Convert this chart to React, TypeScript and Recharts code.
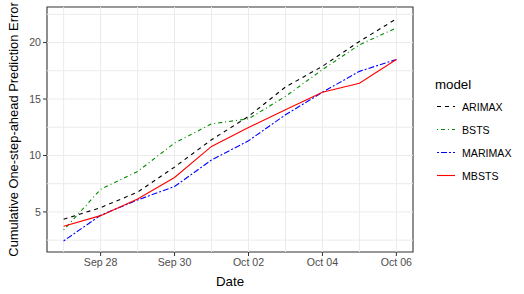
import { LineChart, Line, XAxis, YAxis, ReferenceLine, ReferenceArea, Legend } from 'recharts';

const dates = ['Sep 27', 'Sep 28', 'Sep 29', 'Sep 30', 'Oct 01', 'Oct 02', 'Oct 03', 'Oct 04', 'Oct 05', 'Oct 06'];
const arimax = [4.35, 5.38, 6.75, 8.97, 11.39, 13.46, 16.06, 17.9, 20.1, 22.1];
const bsts = [3.4, 7.0, 8.58, 11.1, 12.8, 13.25, 15.23, 17.6, 19.8, 21.3];
const marimax = [2.43, 4.7, 6.06, 7.25, 9.6, 11.3, 13.6, 15.6, 17.45, 18.5];
const mbsts = [3.73, 4.67, 6.15, 8.05, 10.8, 12.48, 14.05, 15.6, 16.4, 18.5];

const xTicks = [1, 3, 5, 7, 9];
const xMinor = [0, 2, 4, 6, 8];
const yTicks = [5, 10, 15, 20];
const yMinor = [2.5, 7.5, 12.5, 17.5, 22.5];
const xDomain = [-0.45, 9.45];
const yDomain = [1.45, 23.15];

const series = [
  { key: 'ARIMAX', color: '#000000', dash: '4 4' },
  { key: 'BSTS', color: '#008B00', dash: '1 3 4 3' },
  { key: 'MARIMAX', color: '#0000FF', dash: '2 2 6 2' },
  { key: 'MBSTS', color: '#FF0000', dash: undefined },
];

const data = dates.map((d, i) => ({
  x: i,
  ARIMAX: arimax[i],
  BSTS: bsts[i],
  MARIMAX: marimax[i],
  MBSTS: mbsts[i],
}));

const font = '"Liberation Sans", Arial, sans-serif';

function ModelLegend() {
  return (
    <div style={{ fontFamily: font, color: '#000' }}>
      <div style={{ fontSize: 13.3, height: 20, lineHeight: '20px' }}>model</div>
      {series.map(s => (
        <div key={s.key} style={{ display: 'flex', alignItems: 'center', height: 23 }}>
          <svg width={27} height={23} style={{ display: 'block' }}>
            <line x1={2} x2={20} y1={11.5} y2={11.5} stroke={s.color} strokeWidth={1.1} strokeDasharray={s.dash} />
          </svg>
          <span style={{ fontSize: 10.6 }}>{s.key}</span>
        </div>
      ))}
    </div>
  );
}

export default function App() {
  return (
    <div style={{ position: 'absolute', left: 0, top: 0, width: 524, height: 294, background: '#fff' }}>
      <LineChart width={524} height={294} data={data} margin={{ top: 7, right: 111, bottom: 0, left: 0 }}>
        {xMinor.concat(xTicks).map(v => (
          <ReferenceLine key={'gx' + v} x={v} stroke="#EBEBEB" strokeWidth={1} />
        ))}
        {yMinor.concat(yTicks).map(v => (
          <ReferenceLine key={'gy' + v} y={v} stroke="#EBEBEB" strokeWidth={1} />
        ))}
        <XAxis
          dataKey="x"
          type="number"
          domain={xDomain}
          ticks={xTicks}
          tickFormatter={(v: number) => dates[v]}
          height={42}
          axisLine={false}
          tickLine={{ stroke: '#333333' }}
          tickSize={4}
          tickMargin={2}
          tick={{ fill: '#4D4D4D', fontSize: 10.6, fontFamily: font }}
          label={{ value: 'Date', position: 'insideBottom', offset: 8, fill: '#000', fontSize: 13.3, fontFamily: font }}
        />
        <YAxis
          type="number"
          domain={yDomain}
          ticks={yTicks}
          width={47}
          axisLine={false}
          tickLine={{ stroke: '#333333' }}
          tickSize={4}
          tickMargin={2}
          tick={{ fill: '#4D4D4D', fontSize: 10.6, fontFamily: font }}
          label={{
            value: 'Cumulative One-step-ahead Prediction Error',
            angle: -90,
            position: 'insideLeft',
            offset: 13,
            fill: '#000',
            fontSize: 12.9,
            fontFamily: font,
            style: { textAnchor: 'middle' },
          }}
        />
        {series.map(s => (
          <Line
            key={s.key}
            dataKey={s.key}
            stroke={s.color}
            strokeWidth={1.1}
            strokeDasharray={s.dash}
            dot={false}
            activeDot={false}
            isAnimationActive={false}
          />
        ))}
        <ReferenceArea x1={xDomain[0]} x2={xDomain[1]} y1={yDomain[0]} y2={yDomain[1]} fill="none" stroke="#333333" strokeWidth={1.1} />
        <Legend
          layout="vertical"
          align="center"
          verticalAlign="middle"
          content={() => <ModelLegend />}
          wrapperStyle={{ position: 'absolute', left: 435, top: 75, width: 90 }}
        />
      </LineChart>
    </div>
  );
}
